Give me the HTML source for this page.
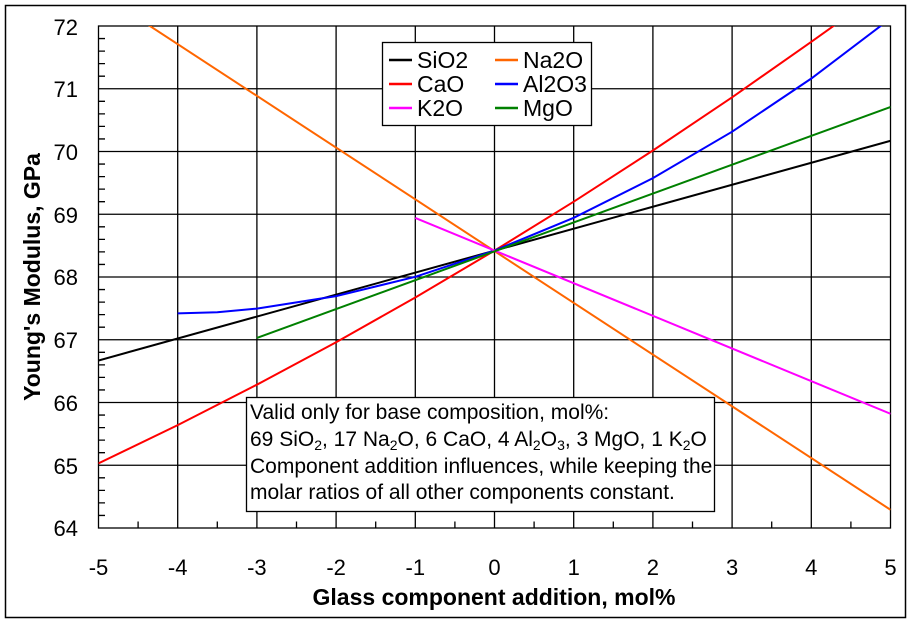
<!DOCTYPE html>
<html><head><meta charset="utf-8"><style>
html,body{margin:0;padding:0;background:#fff;}
svg{display:block;font-family:"Liberation Sans",sans-serif;}
</style></head><body>
<svg width="911" height="623" viewBox="0 0 911 623" xmlns="http://www.w3.org/2000/svg">
<rect x="0" y="0" width="911" height="623" fill="#fff"/>
<rect x="5.5" y="5.5" width="900" height="612" fill="#fff" stroke="#000" stroke-width="1.5"/>
<defs><clipPath id="c"><rect x="98.5" y="26" width="792" height="502"/></clipPath></defs>
<g stroke="#000" stroke-width="1.3" fill="none">
<line x1="177.7" y1="26" x2="177.7" y2="528"/><line x1="256.9" y1="26" x2="256.9" y2="528"/>
<line x1="336.1" y1="26" x2="336.1" y2="528"/><line x1="415.3" y1="26" x2="415.3" y2="528"/>
<line x1="494.5" y1="26" x2="494.5" y2="528"/><line x1="573.7" y1="26" x2="573.7" y2="528"/>
<line x1="652.9" y1="26" x2="652.9" y2="528"/><line x1="732.1" y1="26" x2="732.1" y2="528"/>
<line x1="811.3" y1="26" x2="811.3" y2="528"/>
<line x1="98.5" y1="88.75" x2="890.5" y2="88.75"/><line x1="98.5" y1="151.5" x2="890.5" y2="151.5"/>
<line x1="98.5" y1="214.25" x2="890.5" y2="214.25"/><line x1="98.5" y1="277" x2="890.5" y2="277"/>
<line x1="98.5" y1="339.75" x2="890.5" y2="339.75"/><line x1="98.5" y1="402.5" x2="890.5" y2="402.5"/>
<line x1="98.5" y1="465.25" x2="890.5" y2="465.25"/>
<rect x="98.5" y="26" width="792" height="502"/>
</g>
<path stroke="#000" stroke-width="1.3" fill="none" d="
M98.5 38.55h6.5M98.5 51.1h6.5M98.5 63.65h6.5M98.5 76.2h6.5
M98.5 101.3h6.5M98.5 113.85h6.5M98.5 126.4h6.5M98.5 138.95h6.5
M98.5 164.05h6.5M98.5 176.6h6.5M98.5 189.15h6.5M98.5 201.7h6.5
M98.5 226.8h6.5M98.5 239.35h6.5M98.5 251.9h6.5M98.5 264.45h6.5
M98.5 289.55h6.5M98.5 302.1h6.5M98.5 314.65h6.5M98.5 327.2h6.5
M98.5 352.3h6.5M98.5 364.85h6.5M98.5 377.4h6.5M98.5 389.95h6.5
M98.5 415.05h6.5M98.5 427.6h6.5M98.5 440.15h6.5M98.5 452.7h6.5
M98.5 477.8h6.5M98.5 490.35h6.5M98.5 502.9h6.5M98.5 515.45h6.5
M138.1 528v-6.5M217.3 528v-6.5M296.5 528v-6.5M375.7 528v-6.5M454.9 528v-6.5
M534.1 528v-6.5M613.3 528v-6.5M692.5 528v-6.5M771.7 528v-6.5M850.9 528v-6.5"/>
<g clip-path="url(#c)" fill="none" stroke-width="2">
<line x1="98.5" y1="360.5" x2="890.5" y2="140.8" stroke="#000"/>
<line x1="98.5" y1="-7.6" x2="890.5" y2="509.8" stroke="#ff6600"/>
<polyline stroke="#ff0000" points="98.5,463.4 177.7,425.1 256.9,384.7 336.1,342.2 415.3,297.5 494.5,250.6 573.7,201.7 652.9,150.5 732.1,97.3 811.3,41.8 833.5,26 840,20"/>
<polyline stroke="#0000ff" points="177.7,313.4 217.3,312.3 256.9,308.6 336.1,296.1 415.3,276.8 494.5,250.6 573.7,217.8 652.9,178.1 732.1,131.7 811.3,78.5 890.5,18.5"/>
<line x1="415.3" y1="217.9" x2="890.5" y2="413.8" stroke="#ff00ff"/>
<line x1="256.9" y1="337.9" x2="890.5" y2="107" stroke="#008000"/>
</g>
<rect x="382.5" y="42.5" width="209" height="83" fill="#fff" stroke="#000" stroke-width="1.3"/>
<g stroke-width="2.5">
<line x1="389" y1="60" x2="412" y2="60" stroke="#000"/>
<line x1="389" y1="84" x2="412" y2="84" stroke="#ff0000"/>
<line x1="389" y1="108" x2="412" y2="108" stroke="#ff00ff"/>
<line x1="495" y1="60" x2="518" y2="60" stroke="#ff6600"/>
<line x1="495" y1="84" x2="518" y2="84" stroke="#0000ff"/>
<line x1="495" y1="108" x2="518" y2="108" stroke="#008000"/>
</g>
<g font-size="23" fill="#000">
<text x="417" y="68">SiO2</text><text x="417" y="92">CaO</text><text x="417" y="116">K2O</text>
<text x="523" y="68">Na2O</text><text x="523" y="92">Al2O3</text><text x="523" y="116">MgO</text>
</g>
<rect x="246.5" y="397.5" width="468" height="114" fill="#fff" stroke="#000" stroke-width="1.3"/>
<g font-size="21" fill="#000">
<text x="250" y="419">Valid only for base composition, mol%:</text>
<text x="250" y="446">69 SiO<tspan font-size="14" dy="4">2</tspan><tspan dy="-4">, 17 Na</tspan><tspan font-size="14" dy="4">2</tspan><tspan dy="-4">O, 6 CaO, 4 Al</tspan><tspan font-size="14" dy="4">2</tspan><tspan dy="-4">O</tspan><tspan font-size="14" dy="4">3</tspan><tspan dy="-4">, 3 MgO, 1 K</tspan><tspan font-size="14" dy="4">2</tspan><tspan dy="-4">O</tspan></text>
<text x="250" y="473">Component addition influences, while keeping the</text>
<text x="250" y="499">molar ratios of all other components constant.</text>
</g>
<g font-size="22" fill="#000" text-anchor="end">
<text x="78" y="35">72</text><text x="78" y="97">71</text><text x="78" y="160">70</text>
<text x="78" y="223">69</text><text x="78" y="285">68</text><text x="78" y="348">67</text>
<text x="78" y="411">66</text><text x="78" y="474">65</text><text x="78" y="536">64</text>
</g>
<g font-size="22" fill="#000" text-anchor="middle">
<text x="98.5" y="575">-5</text><text x="177.7" y="575">-4</text><text x="256.9" y="575">-3</text>
<text x="336.1" y="575">-2</text><text x="415.3" y="575">-1</text><text x="494.5" y="575">0</text>
<text x="573.7" y="575">1</text><text x="652.9" y="575">2</text><text x="732.1" y="575">3</text>
<text x="811.3" y="575">4</text><text x="890.5" y="575">5</text>
</g>
<text x="494" y="605" font-size="23" font-weight="bold" text-anchor="middle">Glass component addition, mol%</text>
<text transform="translate(40,277) rotate(-90)" font-size="23" font-weight="bold" text-anchor="middle">Young's Modulus, GPa</text>
</svg>
</body></html>
